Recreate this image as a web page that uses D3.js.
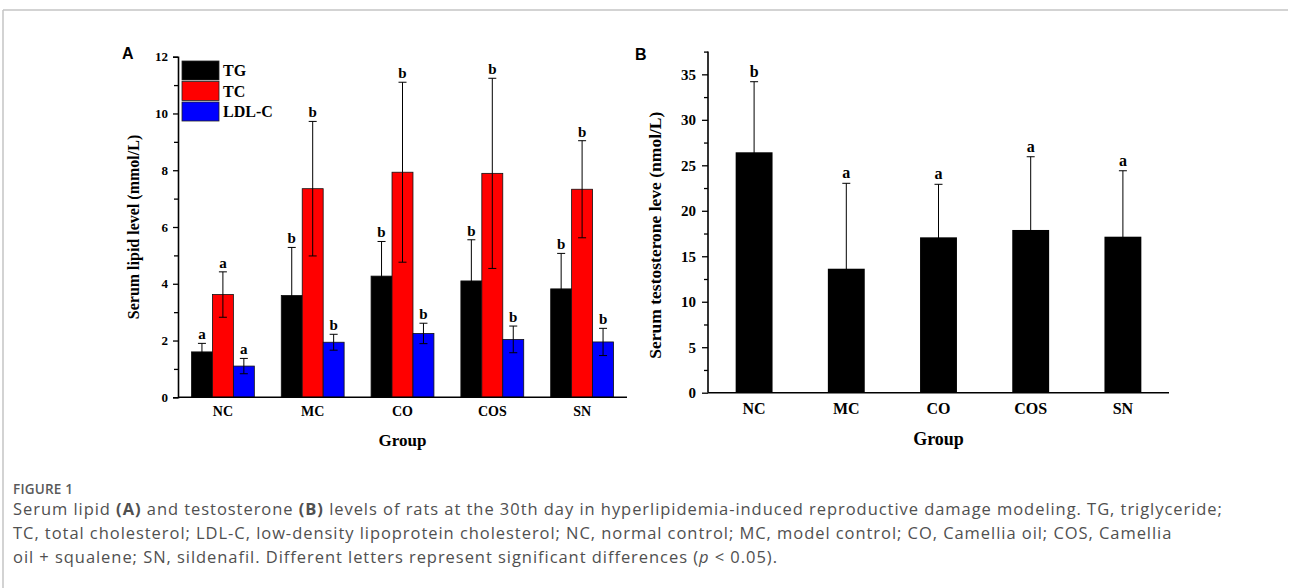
<!DOCTYPE html>
<html>
<head>
<meta charset="utf-8">
<script src="https://cdn.jsdelivr.net/npm/d3@7"></script>
<style>
  body { margin: 0; background: #fff; }
  svg { display: block; }
  .tick text { font-family: "Liberation Serif", "Times New Roman", serif; font-weight: bold; fill: #000; }
  .caption { font-family: "Open Sans", "Noto Sans", sans-serif; fill: #505050; }
</style>
</head>
<body>
<div id="fig"></div>
<script>
// ---- data ----
var groups = ["NC", "MC", "CO", "COS", "SN"];
var lipidSeries = ["TG", "TC", "LDL-C"];
var lipidColors = ["#000000", "#ff0000", "#0000ff"];

var tgMean  = [1.60, 3.59, 4.27, 4.10, 3.82];
var tgSd    = [0.30, 1.69, 1.22, 1.45, 1.25];
var tcMean  = [3.62, 7.35, 7.93, 7.89, 7.33];
var tcSd    = [0.80, 2.37, 3.17, 3.35, 1.71];
var ldlMean = [1.10, 1.94, 2.25, 2.04, 1.95];
var ldlSd   = [0.27, 0.28, 0.36, 0.47, 0.48];
var tgLetters  = ["a", "b", "b", "b", "b"];
var tcLetters  = ["a", "b", "b", "b", "b"];
var ldlLetters = ["a", "b", "b", "b", "b"];

var testoMean    = [26.43, 13.63, 17.08, 17.89, 17.15];
var testoSd      = [7.76, 9.39, 5.83, 8.05, 7.25];
var testoLetters = ["b", "a", "a", "a", "a"];

var lipidTicks = [0, 2, 4, 6, 8, 10, 12];
var lipidMinor = [1, 3, 5, 7, 9, 11];
var testoTicks = [0, 5, 10, 15, 20, 25, 30, 35];
var testoMinor = [2.5, 7.5, 12.5, 17.5, 22.5, 27.5, 32.5, 37.5];

var captionLines = [
    [["Serum lipid ", ""], ["(A)", "b"], [" and testosterone ", ""], ["(B)", "b"], [" levels of rats at the 30th day in hyperlipidemia-induced reproductive damage modeling. TG, triglyceride;", ""]],
    [["TC, total cholesterol; LDL-C, low-density lipoprotein cholesterol; NC, normal control; MC, model control; CO, Camellia oil; COS, Camellia", ""]],
    [["oil + squalene; SN, sildenafil. Different letters represent significant differences (", ""], ["p", "i"], [" < 0.05).", ""]]
];

var width = 1289, height = 588;
var serif = "'Liberation Serif', 'Times New Roman', serif";

var svg = d3.select("#fig").append("svg")
    .attr("width", width)
    .attr("height", height);

// card border (top + left only, right side runs off)
svg.append("line").attr("x1", 3).attr("x2", 1288).attr("y1", 10).attr("y2", 10)
    .attr("stroke", "#c4c4c4").attr("stroke-width", 1.5);
svg.append("line").attr("x1", 3).attr("x2", 3).attr("y1", 10).attr("y2", height)
    .attr("stroke", "#c4c4c4").attr("stroke-width", 1.5);

// ================= panel A =================
var lipidRows = [
    {key: "TG", mean: tgMean, sd: tgSd, letters: tgLetters},
    {key: "TC", mean: tcMean, sd: tcSd, letters: tcLetters},
    {key: "LDL-C", mean: ldlMean, sd: ldlSd, letters: ldlLetters}
];
var lipidData = [];
groups.forEach(function(g, i) {
    lipidRows.forEach(function(r) {
        lipidData.push({group: g, key: r.key, mean: r.mean[i], sd: r.sd[i], letter: r.letters[i]});
    });
});

var xA = d3.scaleBand().domain(groups).range([178, 627]).paddingInner(0.3).paddingOuter(0.15);
var xA2 = d3.scaleBand().domain(lipidSeries).range([0, xA.bandwidth()]);
var yA = d3.scaleLinear().domain([0, 12]).range([397.3, 56.7]);
var colorA = d3.scaleOrdinal().domain(lipidSeries).range(lipidColors);

var chartA = svg.append("g").attr("id", "chartA");

chartA.selectAll(".bar").data(lipidData)
    .enter().append("rect")
    .attr("class", "bar")
    .attr("x", function(d) { return xA(d.group) + xA2(d.key); })
    .attr("y", function(d) { return yA(d.mean); })
    .attr("width", xA2.bandwidth())
    .attr("height", function(d) { return yA(0) - yA(d.mean); })
    .attr("fill", function(d) { return colorA(d.key); })
    .attr("stroke", "#111")
    .attr("stroke-width", 0.8);

function cx(d) { return xA(d.group) + xA2(d.key) + xA2.bandwidth() / 2; }

chartA.selectAll(".err").data(lipidData)
    .enter().append("path")
    .attr("class", "err")
    .attr("fill", "none")
    .attr("stroke", "#000")
    .attr("stroke-width", 1)
    .attr("d", function(d) {
        var x = cx(d), top = yA(d.mean + d.sd), bot = yA(d.mean - d.sd);
        return "M" + x + "," + bot + "V" + top +
            "M" + (x - 4) + "," + top + "H" + (x + 4) +
            "M" + (x - 4) + "," + bot + "H" + (x + 4);
    });

chartA.selectAll(".sig").data(lipidData)
    .enter().append("text")
    .attr("class", "sig")
    .attr("x", function(d) { return cx(d); })
    .attr("y", function(d) { return yA(d.mean + d.sd) - 4; })
    .attr("text-anchor", "middle")
    .style("font-family", serif).style("font-weight", "bold").style("font-size", "15px")
    .text(function(d) { return d.letter; });

// axes A
var axA = chartA.append("g").attr("transform", "translate(178,0)")
    .call(d3.axisLeft(yA).tickValues(lipidTicks).tickSize(5).tickPadding(5));
axA.selectAll("text").style("font-size", "13px");
chartA.append("g").attr("transform", "translate(178,0)")
    .call(d3.axisLeft(yA).tickValues(lipidMinor).tickSize(4).tickFormat(""))
    .select(".domain").remove();
var axAx = chartA.append("g").attr("transform", "translate(0," + yA(0) + ")")
    .call(d3.axisBottom(xA).tickSize(0).tickPadding(9));
axAx.selectAll("text").style("font-size", "14px");
axAx.select(".domain").attr("d", "M178,0H627");
chartA.selectAll(".domain").attr("stroke-width", 1.6);
chartA.selectAll(".tick line").attr("stroke-width", 1.3);

chartA.append("text")
    .attr("transform", "translate(139," + ((yA(0) + yA(12)) / 2) + ") rotate(-90)")
    .attr("text-anchor", "middle")
    .style("font-family", serif).style("font-weight", "bold").style("font-size", "16px")
    .text("Serum lipid level (mmol/L)");
chartA.append("text")
    .attr("x", (178 + 627) / 2).attr("y", 446)
    .attr("text-anchor", "middle")
    .style("font-family", serif).style("font-weight", "bold").style("font-size", "17px")
    .text("Group");

// legend A
var legA = chartA.selectAll(".leg").data(lipidSeries)
    .enter().append("g").attr("class", "leg")
    .attr("transform", function(d, i) { return "translate(182," + (61 + i * 20.5) + ")"; });
legA.append("rect")
    .attr("width", 37).attr("height", 19)
    .attr("fill", function(d) { return colorA(d); })
    .attr("stroke", "#222").attr("stroke-width", 0.8);
legA.append("text")
    .attr("x", 41).attr("y", 15)
    .style("font-family", serif).style("font-weight", "bold").style("font-size", "16px")
    .text(function(d) { return d; });

svg.append("text").attr("x", 122).attr("y", 59)
    .style("font-family", "'Liberation Sans', Arial, sans-serif").style("font-weight", "bold").style("font-size", "16px")
    .text("A");

// ================= panel B =================
var testoData = groups.map(function(g, i) {
    return {group: g, mean: testoMean[i], sd: testoSd[i], letter: testoLetters[i]};
});

var bLeft = 708, bRight = 1169;
var xB = d3.scaleBand().domain(groups).range([bLeft, bRight]).paddingInner(0.6).paddingOuter(0.3);
var yB = d3.scaleLinear().domain([0, 37.5]).range([392.7, 51.6]);

var chartB = svg.append("g").attr("id", "chartB");

chartB.selectAll(".bar").data(testoData)
    .enter().append("rect")
    .attr("class", "bar")
    .attr("x", function(d) { return xB(d.group); })
    .attr("y", function(d) { return yB(d.mean); })
    .attr("width", xB.bandwidth())
    .attr("height", function(d) { return yB(0) - yB(d.mean); })
    .attr("fill", "#000");

chartB.selectAll(".err").data(testoData)
    .enter().append("path")
    .attr("class", "err")
    .attr("fill", "none")
    .attr("stroke", "#000")
    .attr("stroke-width", 1)
    .attr("d", function(d) {
        var x = xB(d.group) + xB.bandwidth() / 2, top = yB(d.mean + d.sd), bot = yB(d.mean - d.sd);
        return "M" + x + "," + bot + "V" + top +
            "M" + (x - 4) + "," + top + "H" + (x + 4);
    });

chartB.selectAll(".sig").data(testoData)
    .enter().append("text")
    .attr("class", "sig")
    .attr("x", function(d) { return xB(d.group) + xB.bandwidth() / 2; })
    .attr("y", function(d) { return yB(d.mean + d.sd) - 5; })
    .attr("text-anchor", "middle")
    .style("font-family", serif).style("font-weight", "bold").style("font-size", "16px")
    .text(function(d) { return d.letter; });

var axB = chartB.append("g").attr("transform", "translate(" + bLeft + ",0)")
    .call(d3.axisLeft(yB).tickValues(testoTicks).tickSize(6).tickPadding(6));
axB.selectAll("text").style("font-size", "15px");
axB.select(".domain").attr("d", "M0,392.7V51.6");
chartB.append("g").attr("transform", "translate(" + bLeft + ",0)")
    .call(d3.axisLeft(yB).tickValues(testoMinor).tickSize(4).tickFormat(""))
    .select(".domain").remove();
var axBx = chartB.append("g").attr("transform", "translate(0," + yB(0) + ")")
    .call(d3.axisBottom(xB).tickSize(0).tickPadding(10));
axBx.selectAll("text").style("font-size", "16px");
axBx.select(".domain").attr("d", "M" + bLeft + ",0H" + bRight);
chartB.selectAll(".domain").attr("stroke-width", 1.6);
chartB.selectAll(".tick line").attr("stroke-width", 1.3);

chartB.append("text")
    .attr("transform", "translate(661," + ((yB(0) + yB(37.5)) / 2 + 13) + ") rotate(-90)")
    .attr("text-anchor", "middle")
    .style("font-family", serif).style("font-weight", "bold").style("font-size", "17.5px")
    .text("Serum testosterone leve (nmol/L)");
chartB.append("text")
    .attr("x", (bLeft + bRight) / 2).attr("y", 445)
    .attr("text-anchor", "middle")
    .style("font-family", serif).style("font-weight", "bold").style("font-size", "18px")
    .text("Group");

svg.append("text").attr("x", 635).attr("y", 60)
    .style("font-family", "'Liberation Sans', Arial, sans-serif").style("font-weight", "bold").style("font-size", "16px")
    .text("B");

// ================= caption =================
svg.append("text")
    .attr("class", "caption")
    .attr("x", 13).attr("y", 494)
    .style("font-size", "13.5px").style("font-weight", "600").style("fill", "#5a5a5a")
    .style("letter-spacing", "0.2px")
    .text("FIGURE 1");

svg.selectAll(".capline").data(captionLines)
    .enter().append("text")
    .attr("class", "caption capline")
    .attr("x", 13)
    .attr("y", function(d, i) { return 515 + i * 24; })
    .style("font-size", "16.5px")
    .style("letter-spacing", "0.95px")
    .selectAll("tspan").data(function(d) { return d; })
    .enter().append("tspan")
    .style("font-weight", function(d) { return d[1] == "b" ? "bold" : "normal"; })
    .style("font-style", function(d) { return d[1] == "i" ? "italic" : "normal"; })
    .text(function(d) { return d[0]; });
</script>
</body>
</html>
